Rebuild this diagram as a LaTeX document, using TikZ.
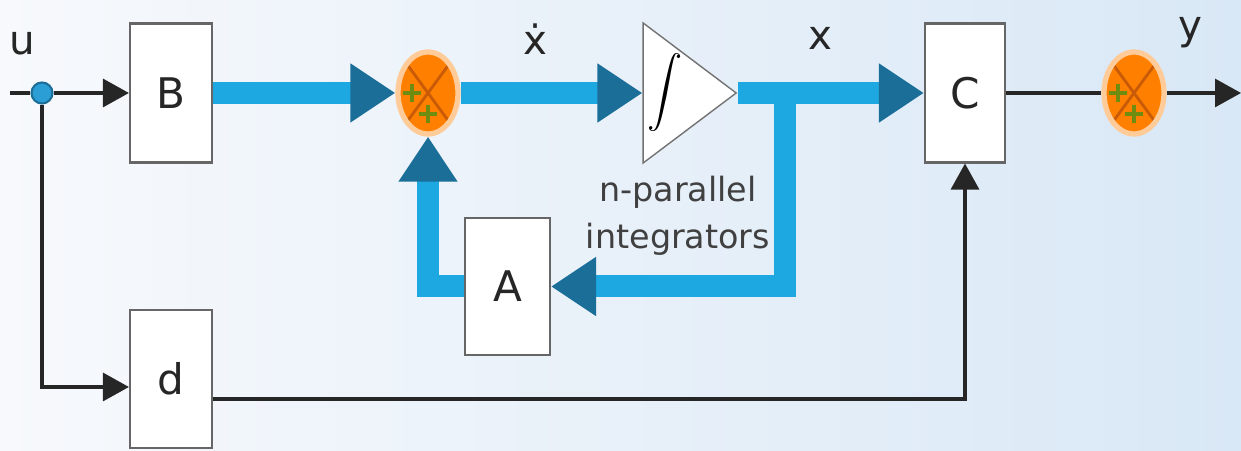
\documentclass[tikz,border=0pt]{standalone}
\usepackage{fontspec}
\setmainfont{DejaVu Sans}
\usetikzlibrary{arrows.meta,shapes.geometric}
\definecolor{flowblue}{HTML}{1DA8E2}
\definecolor{headblue}{HTML}{1B6E97}
\definecolor{sumorange}{HTML}{FF8000}
\definecolor{sumline}{HTML}{C85A08}
\definecolor{plusgreen}{HTML}{6E8C10}
\definecolor{bgleft}{HTML}{F7F9FC}
\definecolor{bgright}{HTML}{D9E8F6}
\definecolor{dotblue}{HTML}{2C9ED6}
\tikzset{
	block/.style={draw=black!60, line width=0.6pt, fill=white, minimum width=0.82cm, minimum height=1.39cm, inner sep=0pt, text=black!85, font=\fontsize{12}{14}\selectfont},
	flow/.style={draw=flowblue, line width=2.2mm, line join=miter, -{Triangle[length=4.5mm,width=5.6mm,color=headblue]}},
	sig/.style={draw=black!85, line width=0.9pt, -{Triangle[length=2.6mm,width=2.8mm]}},
	wire/.style={draw=black!85, line width=0.9pt},
	sumnode/.style={ellipse, fill=sumorange, draw=sumorange!40, line width=1.5pt, minimum width=0.6cm, minimum height=0.82cm, inner sep=0pt,
		path picture={
			\draw[sumline, line width=0.8pt] (path picture bounding box.north west) -- (path picture bounding box.south east)
				(path picture bounding box.north east) -- (path picture bounding box.south west);
			\draw[plusgreen, line width=1.2pt] ([xshift=-1.6mm]path picture bounding box.center) +(-0.9mm,0) -- +(0.9mm,0) +(0,-0.9mm) -- +(0,0.9mm)
				([yshift=-2.1mm]path picture bounding box.center) +(-0.9mm,0) -- +(0.9mm,0) +(0,-0.9mm) -- +(0,0.9mm);
		}},
	lbl/.style={text=black!85, font=\fontsize{11.5}{13}\selectfont}
}
\begin{document}
\begin{tikzpicture}
	\useasboundingbox (0,0) rectangle (12.41,4.51);
	\fill[left color=bgleft, right color=bgright] (0,0) rectangle (12.41,4.51);
	\node[block] (B) at (1.71,3.58) {B};
	\node[block, minimum height=1.38cm] (d) at (1.71,0.72) {d};
	\node[block, minimum width=0.85cm, minimum height=1.37cm] (A) at (5.075,1.645) {A};
	\node[block, minimum width=0.80cm] (C) at (9.65,3.58) {C};
	\node[sumnode] (sum1) at (4.28,3.58) {};
	\node[sumnode] (sum2) at (11.34,3.58) {};
	\node[isosceles triangle, isosceles triangle stretches, draw=black!55, fill=white, line width=0.4pt, minimum width=1.40cm, minimum height=0.93cm, inner sep=0pt, anchor=apex] (integ) at (7.38,3.58) {};
	\node[font=\small] (intsym) at (6.65,3.58) {$\displaystyle\int$};
	\node[circle, fill=dotblue, draw=headblue, line width=0.6pt, minimum size=0.21cm, inner sep=0pt] (split) at (0.42,3.58) {};
	\coordinate (in) at (0.10,3.58);
	\coordinate (out) at (12.41,3.58);
	\coordinate (branch) at (7.85,3.58);
	\draw[flow] (B) -- (sum1);
	\draw[flow] (sum1) -- (integ.lower side);
	\draw[flow] (integ.apex) -- (C.west);
	\draw[flow] (branch) |- (A.east);
	\draw[flow] (A.west) -| (sum1.south);
	\draw[wire] (in) -- (split);
	\draw[sig] (split) -- (B);
	\draw[sig] (split) |- ([yshift=-0.08cm]d.west);
	\draw[sig] ([yshift=-0.2cm]d.east) -| (C.south);
	\draw[wire] (C) -- (sum2);
	\draw[sig] (sum2) -- (out);
	\node[lbl] (ulbl) at (0.22,4.08) {u};
	\node[lbl] (xdotlbl) at (5.35,4.12) {ẋ};
	\node[lbl] (xlbl) at (8.20,4.13) {x};
	\node[lbl] (ylbl) at (11.90,4.18) {y};
	\node[align=center, font=\fontsize{9.5}{13.3}\selectfont, text=black!75] (intlbl) at (6.78,2.35) {n-parallel\\integrators};
\end{tikzpicture}
\end{document}
